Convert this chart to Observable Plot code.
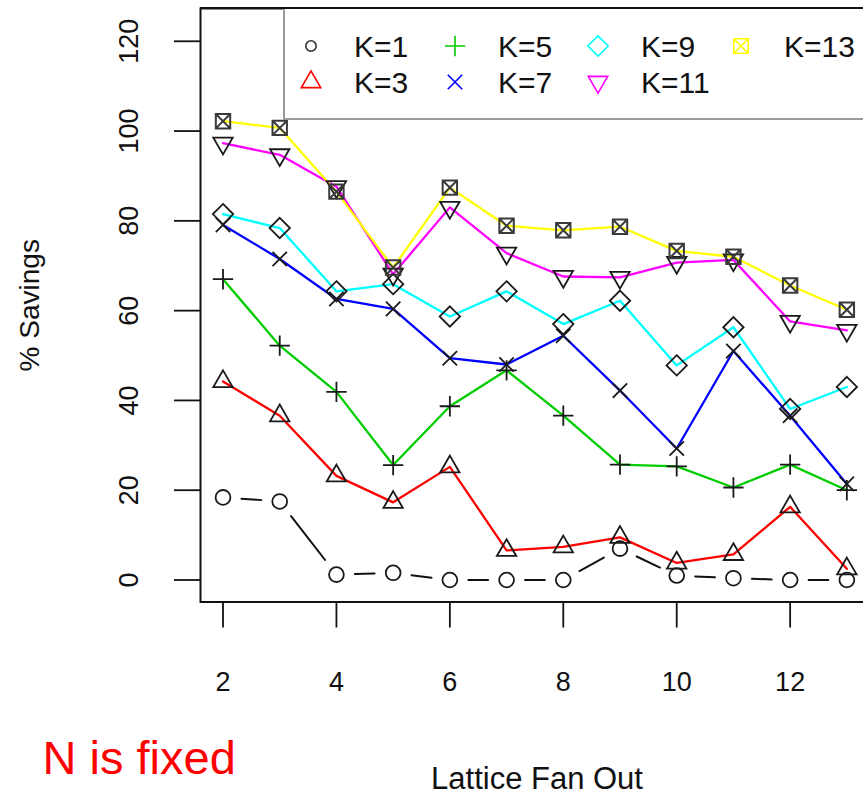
<!DOCTYPE html>
<html>
<head>
<meta charset="utf-8">
<script src="https://cdn.jsdelivr.net/npm/d3@7"></script>
<script src="https://cdn.jsdelivr.net/npm/@observablehq/plot@0.6"></script>
<style>
  html, body { margin: 0; padding: 0; background: white; overflow: hidden; }
  #chart svg { display: block; }
</style>
</head>
<body>
<div id="chart"></div>
<script>
// ---------- data ----------
const fanOut = [2, 3, 4, 5, 6, 7, 8, 9, 10, 11, 12, 13];
const seriesNames = ["K=1", "K=3", "K=5", "K=7", "K=9", "K=11", "K=13"];
const seriesColors = ["#000000", "#FF0000", "#00CD00", "#0000FF", "#00FFFF", "#FF00FF", "#FFFF00"];
const k1  = [18.4, 17.5, 1.2, 1.6, 0, 0, 0, 7.0, 1.0, 0.4, 0, 0];
const k3  = [44.2, 36.6, 23.2, 17.3, 25.2, 6.6, 7.4, 9.5, 3.8, 5.7, 16.3, 2.5];
const k5  = [67.0, 52.2, 41.9, 25.6, 38.7, 46.7, 36.6, 25.7, 25.3, 20.6, 25.7, 20.0];
const k7  = [79.1, 71.5, 62.6, 60.4, 49.4, 48.0, 54.4, 42.2, 29.3, 51.0, 36.6, 21.4];
const k9  = [81.5, 78.4, 64.3, 65.9, 58.7, 64.3, 57.0, 62.2, 47.8, 56.3, 38.1, 43.0];
const k11 = [97.3, 94.7, 87.6, 68.1, 83.0, 72.8, 67.6, 67.4, 70.7, 71.3, 57.6, 55.6];
const k13 = [102.2, 100.7, 86.5, 69.6, 87.4, 78.9, 77.9, 78.7, 73.3, 72.0, 65.6, 60.2];
const xTicks = [2, 4, 6, 8, 10, 12];
const yTicks = [0, 20, 40, 60, 80, 100, 120];
const xLabel = "Lattice Fan Out";
const yLabel = "% Savings";
const note = "N is fixed";

const seriesValues = [k1, k3, k5, k7, k9, k11, k13];
const rows = seriesNames.flatMap((k, j) => fanOut.map((f, i) => ({k, fan: f, pct: seriesValues[j][i]})));

// ---------- R-style plotting symbols ----------
const unit = s => Math.sqrt(s / Math.PI);
const symCircle = {draw(c, s) { const u = unit(s); c.moveTo(u, 0); c.arc(0, 0, u, 0, 2 * Math.PI); }};
const symTriUp = {draw(c, s) { const u = unit(s); c.moveTo(0, -1.555 * u); c.lineTo(1.347 * u, 0.778 * u); c.lineTo(-1.347 * u, 0.778 * u); c.closePath(); }};
const symPlus = {draw(c, s) { const u = unit(s) * 1.414; c.moveTo(-u, 0); c.lineTo(u, 0); c.moveTo(0, -u); c.lineTo(0, u); }};
const symTimes = {draw(c, s) { const u = unit(s); c.moveTo(-u, -u); c.lineTo(u, u); c.moveTo(-u, u); c.lineTo(u, -u); }};
const symDiamond = {draw(c, s) { const u = unit(s) * 1.414; c.moveTo(0, -u); c.lineTo(u, 0); c.lineTo(0, u); c.lineTo(-u, 0); c.closePath(); }};
const symTriDown = {draw(c, s) { const u = unit(s); c.moveTo(0, 1.555 * u); c.lineTo(1.347 * u, -0.778 * u); c.lineTo(-1.347 * u, -0.778 * u); c.closePath(); }};
const symBoxX = {draw(c, s) { const u = unit(s); c.moveTo(-u, -u); c.lineTo(u, -u); c.lineTo(u, u); c.lineTo(-u, u); c.closePath(); c.moveTo(-u, -u); c.lineTo(u, u); c.moveTo(-u, u); c.lineTo(u, -u); }};
const seriesSymbols = [symCircle, symTriUp, symPlus, symTimes, symDiamond, symTriDown, symBoxX];

// K=1 is drawn R type "b": segments with gaps around the points
const k1Rows = rows.filter(d => d.k === "K=1");
const k1Segments = d3.pairs(k1Rows).map(([a, b]) => ({x1: a.fan, y1: a.pct, x2: b.fan, y2: b.pct}));

const FONT = "'Liberation Sans', Arial, Helvetica, sans-serif";

const marks = [
  // colored lines
  Plot.line(rows.filter(d => d.k !== "K=1"), {x: "fan", y: "pct", z: "k", stroke: "k", strokeWidth: 2.3}),
  Plot.arrow(k1Segments, {x1: "x1", y1: "y1", x2: "x2", y2: "y2", stroke: "#111", strokeWidth: 2, headLength: 0, inset: 18.5}),
  // markers (black outline)
  ...seriesNames.map((k, j) => Plot.dot(rows.filter(d => d.k === k), {
    x: "fan", y: "pct", symbol: seriesSymbols[j], r: j === 0 ? 7.4 : 7.2,
    fill: "none", stroke: j === 6 ? "#3a3a3a" : "#1a1a1a", strokeWidth: j === 6 ? 2 : 1.8
  })),
  // axes
  Plot.axisX({ticks: xTicks, tickSize: 26, tickPadding: 44, strokeWidth: 1.8, fontSize: 27, label: null, tickFormat: d => String(d)}),
  Plot.axisY({ticks: yTicks, tickSize: 26, strokeWidth: 1.8, label: null, tickFormat: () => ""}),
  Plot.text(yTicks, {y: d => d, text: d => String(d), frameAnchor: "left", dx: -71, rotate: -90, textAnchor: "middle", lineAnchor: "middle", fontSize: 27, fill: "#111"}),
  Plot.frame({stroke: "#111", strokeWidth: 2}),
  // titles
  Plot.text([xLabel], {frameAnchor: "bottom", dy: 177, textAnchor: "middle", lineAnchor: "middle", fontSize: 31, fill: "#111"}),
  Plot.text([yLabel], {frameAnchor: "left", dx: -170, rotate: -90, textAnchor: "middle", lineAnchor: "middle", fontSize: 28, fill: "#111"}),
  Plot.text([note], {frameAnchor: "bottom-left", dx: -158, dy: 157, textAnchor: "start", lineAnchor: "middle", fontSize: 47, fill: "#FF0000"})
];

const chart = Plot.plot({
  width: 863,
  height: 795,
  marginLeft: 200,
  marginRight: -10,
  marginTop: 8,
  marginBottom: 193.5,
  style: {fontFamily: FONT, background: "white", color: "#111", overflow: "visible"},
  x: {domain: [1.603, 13.47], axis: null},
  y: {domain: [-4.9, 127.3], axis: null},
  color: {domain: seriesNames, range: seriesColors, legend: false},
  marks
});
document.getElementById("chart").appendChild(chart);

// ---------- legend (R-style, top right, 4 columns) ----------
const svg = d3.select(chart);
const lg = svg.append("g").attr("font-family", FONT).attr("text-anchor", "start");
lg.append("rect").attr("x", 284).attr("y", 8).attr("width", 620).attr("height", 111).attr("fill", "white").attr("stroke", "none");
lg.append("path").attr("d", "M284,8V119H905").attr("fill", "none").attr("stroke", "#9a9a9a").attr("stroke-width", 2);
lg.append("path").attr("d", "M200,8H905").attr("fill", "none").attr("stroke", "#111").attr("stroke-width", 2);
const colSym = [311, 455, 598, 741];
const rowY = [46, 82];
seriesNames.forEach((k, j) => {
  const col = Math.floor(j / 2), row = j % 2;
  const u = j === 0 ? 5.2 : 7.2;
  lg.append("path")
    .attr("transform", `translate(${colSym[col]},${rowY[row]})`)
    .attr("d", d3.symbol(seriesSymbols[j], Math.PI * u * u)())
    .attr("fill", "none")
    .attr("stroke", j === 0 ? "#333" : seriesColors[j])
    .attr("stroke-width", 1.6);
  lg.append("text")
    .attr("x", colSym[col] + 43).attr("y", rowY[row]).attr("dy", "0.35em")
    .attr("text-anchor", "start")
    .attr("font-size", 30).attr("fill", "#111")
    .text(k);
});
</script>
</body>
</html>
